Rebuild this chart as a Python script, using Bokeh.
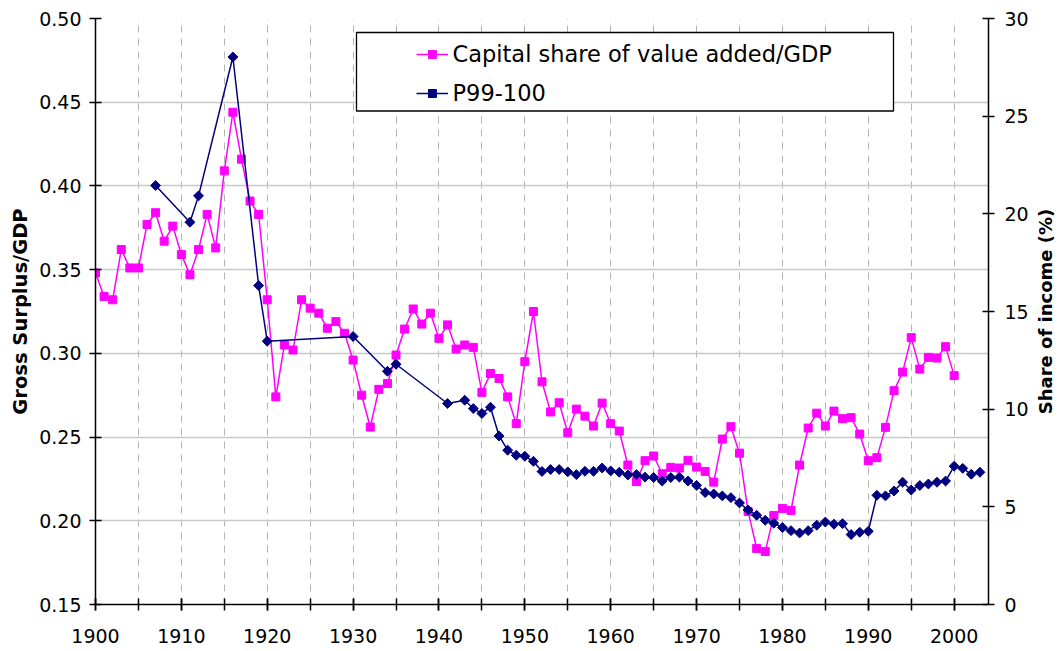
import numpy as np
from bokeh.plotting import figure
from bokeh.models import (Range1d, LinearAxis, FixedTicker, Legend, LegendItem,
                          BoxAnnotation, PrintfTickFormatter, Label)
from bokeh.embed import file_html
from bokeh.resources import INLINE

# ---------------- data ----------------
cap_years = list(range(1900, 2001))
capital_share = [
    0.348, 0.334, 0.332, 0.362, 0.351, 0.351, 0.377, 0.384, 0.367, 0.376,  # 1900-09
    0.359, 0.347, 0.362, 0.383, 0.363, 0.409, 0.444, 0.416, 0.391, 0.383,  # 1910-19
    0.332, 0.274, 0.305, 0.302, 0.332, 0.327, 0.324, 0.315, 0.319, 0.312,  # 1920-29
    0.296, 0.275, 0.256, 0.2785, 0.282, 0.299, 0.3145, 0.3265, 0.3175, 0.324,  # 1930-39
    0.309, 0.317, 0.3026, 0.305, 0.3036, 0.2767, 0.288, 0.285, 0.274, 0.258,  # 1940-49
    0.295, 0.325, 0.283, 0.265, 0.2705, 0.2526, 0.2667, 0.2625, 0.2566, 0.2703,  # 1950-59
    0.258, 0.2536, 0.2333, 0.2234, 0.2359, 0.2387, 0.2281, 0.2319, 0.2315, 0.2361,  # 1960-69
    0.2321, 0.2295, 0.2231, 0.2488, 0.2562, 0.2404, 0.2056, 0.1835, 0.1817, 0.2032,  # 1970-79
    0.2074, 0.2062, 0.2333, 0.2554, 0.2643, 0.2566, 0.2655, 0.261, 0.2616, 0.2518,  # 1980-89
    0.2359, 0.2377, 0.2558, 0.2777, 0.2888, 0.3094, 0.2906, 0.2976, 0.2972, 0.304,  # 1990-99
    0.2867,  # 2000
]

top_years = [1907, 1911, 1912, 1916, 1919, 1920, 1930, 1934, 1935, 1941] + list(range(1943, 2004))
top1_share = [
    21.45, 19.57, 20.92, 28.03, 16.33, 13.48, 13.72, 11.94, 12.30, 10.29,
    10.46, 10.03, 9.78, 10.10, 8.63, 7.90, 7.64,                       # 1943-49
    7.59, 7.33, 6.81, 6.91, 6.91, 6.79, 6.65, 6.82, 6.82, 6.99,         # 1950-59
    6.84, 6.77, 6.63, 6.65, 6.52, 6.50, 6.32, 6.50, 6.52, 6.32,         # 1960-69
    6.10, 5.73, 5.66, 5.56, 5.47, 5.20, 4.84, 4.57, 4.31, 4.16,         # 1970-79
    3.94, 3.78, 3.66, 3.78, 4.06, 4.22, 4.11, 4.14, 3.58, 3.70,         # 1980-89
    3.75, 5.59, 5.56, 5.81, 6.26, 5.86, 6.09, 6.17, 6.26, 6.32,         # 1990-99
    7.08, 6.97, 6.67, 6.77,                                             # 2000-03
]

x_label_ticks = list(range(1900, 2001, 10))
x_minor_ticks = list(range(1900, 2004, 5))
x_grid_ticks = list(range(1905, 2001, 5))
y_left_ticks = [0.15, 0.20, 0.25, 0.30, 0.35, 0.40, 0.45, 0.50]
y_right_ticks = [0, 5, 10, 15, 20, 25, 30]

series_names = ["Capital share of value added/GDP", "P99-100"]
left_title = "Gross Surplus/GDP"
right_title = "Share of income (%)"

PINK = "#FF00FF"
NAVY = "#000080"
TICK_FONT = "DejaVu Sans"
TITLE_FONT = "DejaVu Sans"

W, H = 1061, 651
BL, BR, BT, BB = 95, 73, 18, 47
FRAME_W, FRAME_H = W - BL - BR, H - BT - BB

# ---------------- figure ----------------
p = figure(width=W, height=H,
           x_range=Range1d(1900, 2004), y_range=Range1d(0.15, 0.50),
           output_backend="svg", toolbar_location=None,
           min_border_left=BL, min_border_right=BR,
           min_border_top=BT, min_border_bottom=BB)
p.extra_y_ranges = {"right": Range1d(0, 30)}
p.outline_line_color = None
p.background_fill_color = "white"
p.border_fill_color = "white"

# grids
p.xgrid.ticker = FixedTicker(ticks=x_grid_ticks)
p.xgrid.grid_line_color = "#b4b4b4"
p.xgrid.grid_line_width = 1
p.xgrid.grid_line_dash = "7 6"
p.ygrid.ticker = FixedTicker(ticks=y_left_ticks)
p.ygrid.grid_line_color = "#c8c8c8"
p.ygrid.grid_line_width = 1.5

# x axis
xa = p.xaxis[0]
xa.ticker = FixedTicker(ticks=x_label_ticks, minor_ticks=x_minor_ticks)
xa.major_tick_in = 6
xa.major_tick_out = 6
xa.minor_tick_in = 6
xa.minor_tick_out = 6
xa.minor_tick_line_color = "black"
xa.minor_tick_line_width = 1.5
xa.major_tick_line_width = 1.5
xa.axis_line_width = 1.5
xa.major_label_text_font = TICK_FONT
xa.major_label_text_font_size = "19px"
xa.major_label_text_color = "black"
xa.major_label_standoff = 18

# left y axis
ya = p.yaxis[0]
ya.ticker = FixedTicker(ticks=y_left_ticks, minor_ticks=[])
ya.formatter = PrintfTickFormatter(format="%.2f")
ya.major_tick_in = 6
ya.major_tick_out = 6
ya.major_tick_line_width = 1.5
ya.axis_line_width = 1.5
ya.major_label_text_font = TICK_FONT
ya.major_label_text_font_size = "19px"
ya.major_label_text_color = "black"
ya.major_label_standoff = 8
ya.axis_label = left_title
ya.axis_label_text_font = TITLE_FONT
ya.axis_label_text_font_style = "bold"
ya.axis_label_text_font_size = "19.5px"
ya.axis_label_text_color = "black"
ya.axis_label_standoff = 4

# right y axis
ra = LinearAxis(y_range_name="right",
                ticker=FixedTicker(ticks=y_right_ticks, minor_ticks=[]))
ra.major_tick_in = 6
ra.major_tick_out = 6
ra.major_tick_line_width = 1.5
ra.axis_line_width = 1.5
ra.major_label_text_font = TICK_FONT
ra.major_label_text_font_size = "19px"
ra.major_label_text_color = "black"
ra.major_label_standoff = 10
p.add_layout(ra, "right")

# right title, placed in its own side panel (outside the frame, so not clipped)
right_label = Label(x=14, y=FRAME_H / 2, x_units="screen", y_units="screen",
                    text=right_title, angle=np.pi / 2,
                    text_align="center", text_baseline="middle",
                    text_font=TITLE_FONT, text_font_style="bold",
                    text_font_size="18px", text_color="black")
p.add_layout(right_label, "right")

# ---------------- series ----------------
pink_line = p.line(cap_years, capital_share, line_color=PINK, line_width=1.5)
pink_pts = p.scatter(cap_years, capital_share, marker="square", size=8,
                     fill_color=PINK, line_color=PINK)
navy_line = p.line(top_years, top1_share, y_range_name="right",
                   line_color=NAVY, line_width=1.5)
navy_pts = p.scatter(top_years, top1_share, y_range_name="right",
                     marker="square", angle=np.pi / 4, size=7,
                     fill_color=NAVY, line_color=NAVY)

# ---------------- legend ----------------
box = BoxAnnotation(left=261, right=798, top=572, bottom=493.5,
                    left_units="screen", right_units="screen",
                    top_units="screen", bottom_units="screen",
                    fill_color="white", fill_alpha=1.0,
                    line_color="black", line_width=1.3, line_alpha=1.0)
p.add_layout(box)

legend = Legend(items=[LegendItem(label=series_names[0], renderers=[pink_line, pink_pts]),
                       LegendItem(label=series_names[1], renderers=[navy_line, navy_pts])],
                location=(320.5, 498.5), orientation="vertical",
                padding=0, margin=0, spacing=13,
                glyph_width=32, glyph_height=20, label_height=26,
                label_standoff=5,
                label_text_font=TICK_FONT, label_text_font_size="22.5px",
                label_text_color="black",
                border_line_color=None, background_fill_alpha=0)
p.add_layout(legend, "center")

open("out.html", "w").write(file_html(p, INLINE))
